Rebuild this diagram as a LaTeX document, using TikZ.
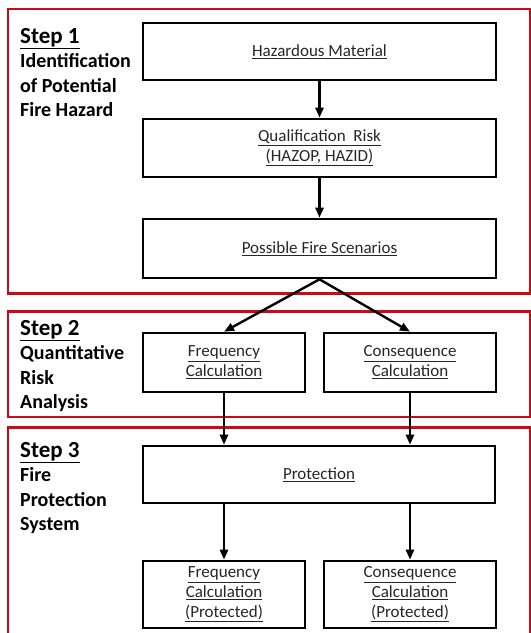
\documentclass[tikz,border=0pt]{standalone}
\usepackage{fontspec}
\setmainfont{Carlito}
\usetikzlibrary{arrows.meta}

\newcommand{\utext}[1]{\underline{#1}}

\begin{document}
\begin{tikzpicture}[x=1pt,y=-1pt,
    box/.style={draw=black,line width=2.6pt,rectangle,inner sep=0pt,
        align=center,text=black!85,font=\fontsize{17}{20}\selectfont},
    frame/.style={draw={rgb,255:red,200;green,10;blue,25},line width=2.4pt},
    flow/.style={line width=2.4pt,-{Triangle[length=10pt,width=8pt]}},
    steplabel/.style={anchor=north west,align=left,inner sep=0pt,
        font=\bfseries\fontsize{20}{24.5}\selectfont}
]

% Picture size
\useasboundingbox (0,0) rectangle (531,633);

% --- Red frames for the three steps ---
\draw[frame] (8,9) rectangle (530.5,293.5);
\draw[frame] (8,311.5) rectangle (530.5,417);
\draw[frame] (8,427.5) rectangle (530.5,640);

% --- Step texts ---
\node[steplabel] (s1) at (20,28) {{\fontsize{23}{24.5}\selectfont\utext{Step 1}}\\Identification\\of Potential\\Fire Hazard};
\node[steplabel] (s2) at (20,320) {{\fontsize{23}{24.5}\selectfont\utext{Step 2}}\\Quantitative\\Risk\\Analysis};
\node[steplabel] (s3) at (20,442) {{\fontsize{23}{24.5}\selectfont\utext{Step 3}}\\Fire\\Protection\\System};

% --- Step 1 boxes ---
\node[box,minimum width=353pt,minimum height=57pt] (haz) at (319.5,51.5) {\utext{Hazardous\ Material}};
\node[box,minimum width=353pt,minimum height=58pt] (qual) at (319.5,148) {\utext{Qualification\ \ Risk}\\\utext{(HAZOP, HAZID)}};
\node[box,minimum width=353pt,minimum height=59pt] (scen) at (319.5,248.5) {\utext{Possible\ Fire\ Scenarios}};

% --- Step 2 boxes ---
\node[box,minimum width=162pt,minimum height=59pt] (freq) at (224,362.5) {\utext{Frequency}\\\utext{Calculation}};
\node[box,minimum width=172pt,minimum height=59pt] (cons) at (410,362.5) {\utext{Consequence}\\\utext{Calculation}};

% --- Step 3 boxes ---
\node[box,minimum width=352pt,minimum height=57pt] (prot) at (319,474.5) {\utext{Protection}};
\node[box,minimum width=162pt,minimum height=67pt] (freqp) at (224,594.5) {\utext{Frequency}\\\utext{Calculation}\\\utext{(Protected)}};
\node[box,minimum width=172pt,minimum height=67pt] (consp) at (410,594.5) {\utext{Consequence}\\\utext{Calculation}\\\utext{(Protected)}};

% --- Connectors ---
\draw[flow] (haz) -- (qual);
\draw[flow] (qual) -- (scen);
\draw[flow] (scen.south) -- (freq.north);
\draw[flow] (scen.south) -- (cons.north);
\draw[flow] (freq.south) -- (freq.south |- prot.north);
\draw[flow] (cons.south) -- (cons.south |- prot.north);
\draw[flow] (freqp.north |- prot.south) -- (freqp.north);
\draw[flow] (consp.north |- prot.south) -- (consp.north);

\end{tikzpicture}
\end{document}
